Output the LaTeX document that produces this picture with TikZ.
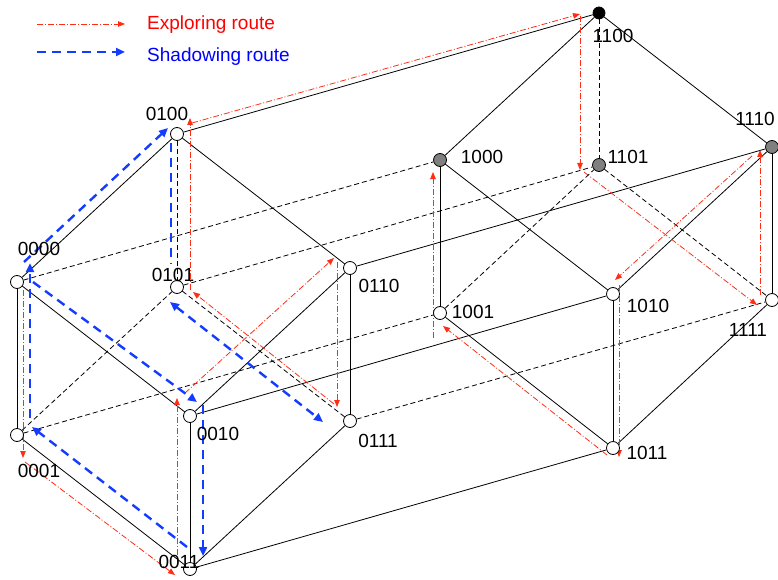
\documentclass[tikz,border=0pt]{standalone}
\usepackage{fontspec}
\setmainfont{Liberation Sans}
\usetikzlibrary{arrows.meta,backgrounds}
\definecolor{routered}{RGB}{255,45,20}
\definecolor{routeblue}{RGB}{20,60,255}
\definecolor{textred}{RGB}{255,0,0}
\definecolor{textblue}{RGB}{0,0,255}
\definecolor{nodegray}{RGB}{128,128,128}
\begin{document}
\begin{tikzpicture}[x=1pt,y=-1pt,
  edge/.style={line width=0.8pt, draw=black},
  hidden/.style={edge, dash pattern=on 5pt off 3pt},
  explore/.style={draw=routered, line width=0.8pt, dash pattern=on 6pt off 2pt on 1pt off 2pt, -{Triangle[length=7pt,width=5.5pt]}},
  shadow/.style={draw=routeblue, line width=2.4pt, dash pattern=on 9pt off 6pt, -{Triangle[length=9pt,width=8pt]}},
  vert/.style={circle, draw=black, line width=0.8pt, fill=white, minimum size=13pt, inner sep=0pt},
  grayvert/.style={vert, fill=nodegray},
  blackvert/.style={vert, fill=black, minimum size=12pt},
  lab/.style={font=\fontsize{19}{21}\selectfont, inner sep=0pt, text=black},
  legtext/.style={font=\fontsize{19}{21}\selectfont, inner sep=0pt, anchor=base west}
]
\useasboundingbox (0,0) rectangle (778,580);

% vertices
\node[vert] (n0000) at (17,282) {};
\node[vert] (n0001) at (17,435) {};
\node[vert] (n0010) at (190,416) {};
\node[vert] (n0011) at (190,569) {};
\node[vert] (n0100) at (177,134) {};
\node[vert] (n0101) at (177,287) {};
\node[vert] (n0110) at (350,268) {};
\node[vert] (n0111) at (350,421) {};
\node[grayvert] (n1000) at (440,160) {};
\node[vert] (n1001) at (440,313) {};
\node[vert] (n1010) at (613,294) {};
\node[vert] (n1011) at (613,448) {};
\node[blackvert] (n1100) at (599,13) {};
\node[grayvert] (n1101) at (599,165) {};
\node[grayvert] (n1110) at (772,147) {};
\node[vert] (n1111) at (772,300) {};

% labels
\node[lab] (l0000) at (39,249) {0000};
\node[lab] (l0001) at (39,471) {0001};
\node[lab] (l0010) at (218,434) {0010};
\node[lab] (l0011) at (179,562) {0011};
\node[lab] (l0100) at (167,114) {0100};
\node[lab] (l0101) at (173,275) {0101};
\node[lab] (l0110) at (379,286) {0110};
\node[lab] (l0111) at (378,441) {0111};
\node[lab] (l1000) at (482,157) {1000};
\node[lab] (l1001) at (473,312) {1001};
\node[lab] (l1010) at (648,306) {1010};
\node[lab] (l1011) at (647,453) {1011};
\node[lab] (l1100) at (613,36) {1100};
\node[lab] (l1101) at (628,157) {1101};
\node[lab] (l1110) at (755,119) {1110};
\node[lab] (l1111) at (748,330) {1111};

% legend
\coordinate (le1a) at (37,24);
\coordinate (le1b) at (125,24);
\coordinate (le2a) at (37,52);
\coordinate (le2b) at (125,52);
\node[legtext, text=textred] (lg1) at (147,30) {Exploring route};
\node[legtext, text=textblue] (lg2) at (147,62) {Shadowing route};
\draw[explore] (le1a) -- (le1b);
\draw[shadow] (le2a) -- (le2b);

\begin{pgfonlayer}{background}
% solid edges
\foreach \a/\b in {0000/0001,0010/0011,0110/0111,1000/1001,1010/1011,1110/1111,
  0000/0010,0001/0011,0100/0110,1000/1010,1001/1011,1100/1110,
  0000/0100,0010/0110,0011/0111,1000/1100,1010/1110,1011/1111,
  0010/1010,0011/1011,0100/1100,0110/1110}
  \draw[edge] (n\a) -- (n\b);
% hidden edges
\foreach \a/\b in {0100/0101,1100/1101,0101/0111,1101/1111,0001/0101,
  1001/1101,0000/1000,0001/1001,0101/1101,0111/1111}
  \draw[hidden] (n\a) -- (n\b);

% exploring route waypoints
\coordinate (e1a) at (23,290);  \coordinate (e1b) at (23,458);
\coordinate (e2a) at (25,462);  \coordinate (e2b) at (175,575);
\coordinate (e3a) at (177,566); \coordinate (e3b) at (177,398);
\coordinate (e4a) at (185,393); \coordinate (e4b) at (334,258);
\coordinate (e5a) at (337,262); \coordinate (e5b) at (337,407);
\coordinate (e6a) at (334,404); \coordinate (e6b) at (193,292);
\coordinate (e7a) at (190,290); \coordinate (e7b) at (190,118);
\coordinate (e8a) at (192,123); \coordinate (e8b) at (580,14);
\coordinate (e9a) at (580,16);  \coordinate (e9b) at (580,170);
\coordinate (e10a) at (584,172); \coordinate (e10b) at (757,305);
\coordinate (e11a) at (760,295); \coordinate (e11b) at (760,150);
\coordinate (e12a) at (752,156); \coordinate (e12b) at (615,280);
\coordinate (e13a) at (619,285); \coordinate (e13b) at (619,457);
\coordinate (e14a) at (607,455); \coordinate (e14b) at (443,326);
\coordinate (e15a) at (433,338); \coordinate (e15b) at (433,172);
\foreach \i in {1,...,15}
  \draw[explore] (e\i a) -- (e\i b);

% shadowing route waypoints
\coordinate (s1a) at (187,547); \coordinate (s1b) at (32,427);
\coordinate (s2a) at (30,418);  \coordinate (s2b) at (30,263);
\coordinate (s3a) at (24,262);  \coordinate (s3b) at (168,128);
\coordinate (s4a) at (171,143); \coordinate (s4b) at (171,264);
\coordinate (s5a) at (170,302); \coordinate (s5b) at (323,422);
\coordinate (s6a) at (33,282);  \coordinate (s6b) at (197,402);
\coordinate (s7a) at (203,405); \coordinate (s7b) at (203,556);
\draw[shadow] (s1a) -- (s1b);
\draw[shadow] (s2a) -- (s2b);
\draw[shadow] (s3a) -- (s3b);
\draw[shadow, -] (s4a) -- (s4b);
\draw[shadow, {Triangle[length=9pt,width=8pt]}-{Triangle[length=9pt,width=8pt]}] (s5a) -- (s5b);
\draw[shadow] (s6a) -- (s6b);
\draw[shadow] (s7a) -- (s7b);
\end{pgfonlayer}
\end{tikzpicture}
\end{document}
